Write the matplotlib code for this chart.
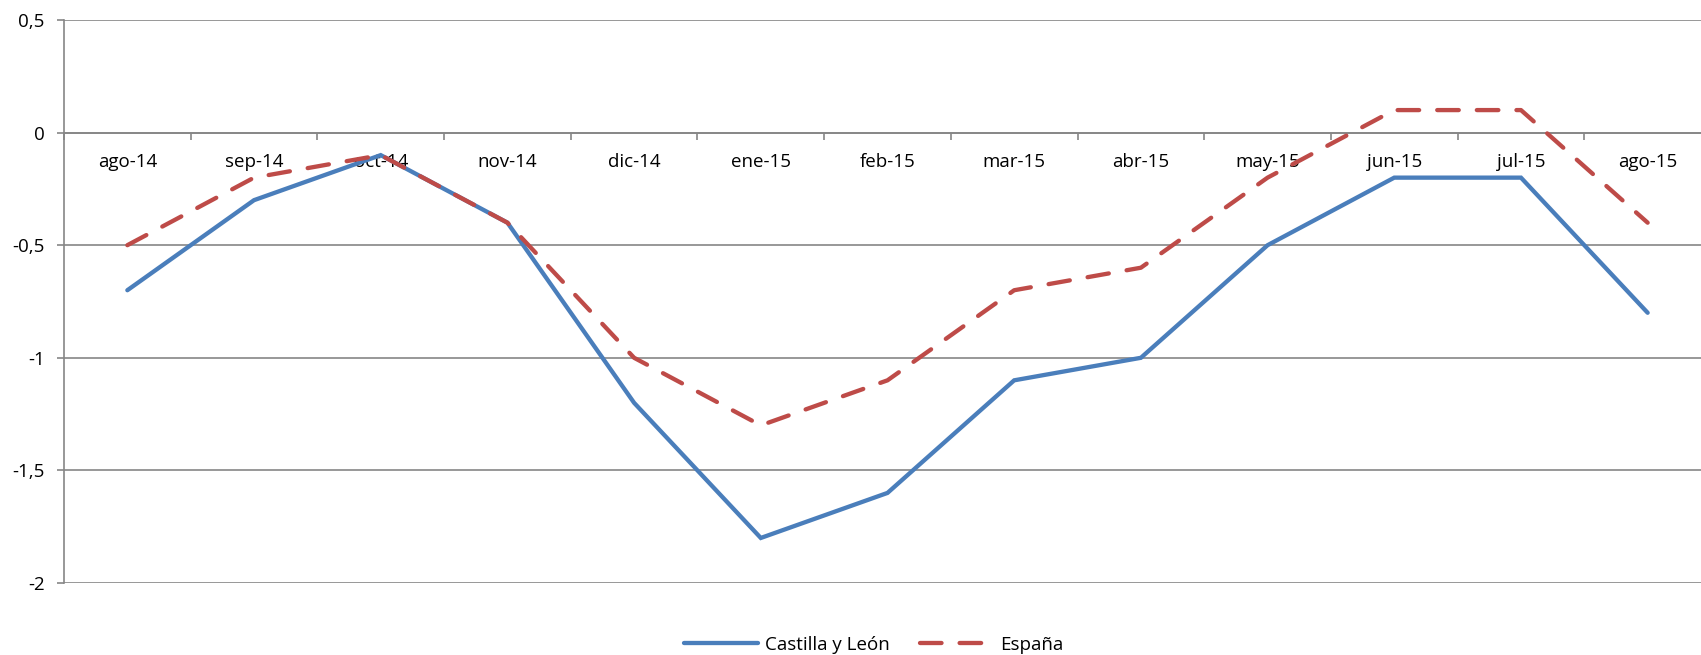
import matplotlib
matplotlib.use("Agg")
import matplotlib.pyplot as plt
import numpy as np

categories = ["ago-14", "sep-14", "oct-14", "nov-14", "dic-14", "ene-15", "feb-15",
              "mar-15", "abr-15", "may-15", "jun-15", "jul-15", "ago-15"]
castilla_leon = [-0.7, -0.3, -0.1, -0.4, -1.2, -1.8, -1.6, -1.1, -1.0, -0.5, -0.2, -0.2, -0.8]
espana = [-0.5, -0.2, -0.1, -0.4, -1.0, -1.3, -1.1, -0.7, -0.6, -0.2, 0.1, 0.1, -0.4]
y_ticks = [0.5, 0, -0.5, -1, -1.5, -2]
y_ticklabels = ["0,5", "0", "-0,5", "-1", "-1,5", "-2"]

plt.rcParams['font.family'] = ['Open Sans', 'DejaVu Sans']

W, H = 1701, 655
fig = plt.figure(figsize=(W / 100, H / 100), dpi=100)
left, right, top, bottom = 64, 1711, 20, 583
ax = fig.add_axes([left / W, 1 - bottom / H, (right - left) / W, (bottom - top) / H])

x = np.arange(len(categories))
grid_c = "#868686"
ax.plot(x, castilla_leon, color="#4A7EBB", lw=3.1, solid_capstyle="round",
        solid_joinstyle="miter", label="Castilla y León", zorder=3)
ax.plot(x, espana, color="#BE4B48", lw=3.1, dashes=(5, 4.2), dash_capstyle="round",
        label="España", zorder=3)

ax.set_xlim(-0.5, len(categories) - 0.5)
ax.set_ylim(-2, 0.5)
ax.set_yticks(y_ticks)
ax.set_yticklabels(y_ticklabels)
ax.yaxis.grid(True, color=grid_c, lw=1.2)
ax.set_axisbelow(True)

for s in ["top", "right"]:
    ax.spines[s].set_visible(False)
ax.spines["left"].set_color(grid_c)
ax.spines["left"].set_linewidth(1.2)
ax.spines["bottom"].set_position(("data", 0))
ax.spines["bottom"].set_color(grid_c)
ax.spines["bottom"].set_linewidth(1.2)

fs = 13.5
ax.set_xticks(np.arange(len(categories) + 1) - 0.5)
ax.set_xticklabels([])
ax.tick_params(axis="x", which="major", direction="out", length=5, color=grid_c, width=1.2)
ax.set_xticks(x, minor=True)
ax.set_xticklabels(categories, minor=True)
ax.tick_params(axis="x", which="minor", length=0, pad=15, labelsize=fs)
ax.tick_params(axis="y", direction="out", length=5, color=grid_c, width=1.2,
               labelsize=fs, pad=9)

fig.legend(loc="center", bbox_to_anchor=(874 / W, 1 - 645 / H), ncol=2, frameon=False,
           fontsize=fs, handlelength=3.9, columnspacing=1.6, handletextpad=0.4)

fig.savefig("out.png", dpi=100)
